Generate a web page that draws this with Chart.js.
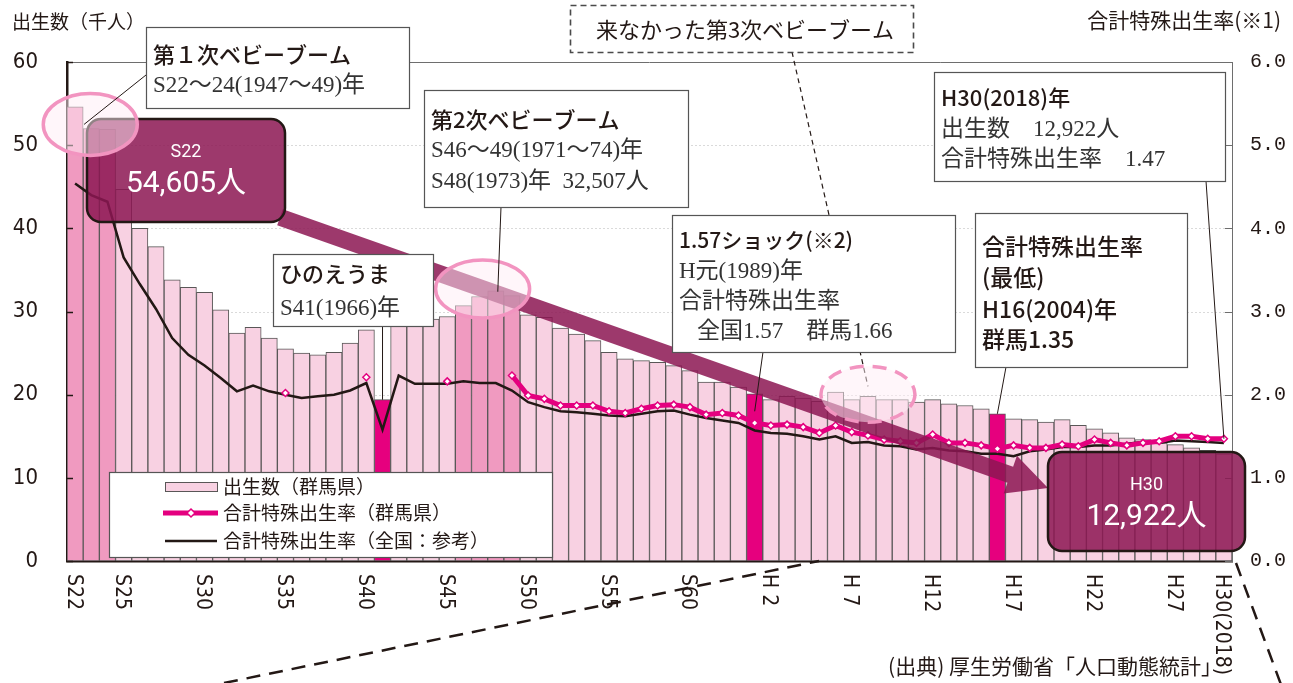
<!DOCTYPE html>
<html><head><meta charset="utf-8">
<script src="https://cdn.jsdelivr.net/npm/chart.js@4/dist/chart.umd.min.js"></script>
<style>html,body{margin:0;padding:0;background:#fff;}#wrap{position:relative;width:1293px;height:683px;}</style>
</head><body><div id="wrap"><canvas id="c" width="1293" height="683"></canvas></div>
<script>
// ---------- data ----------
const categories = ['S22','S23','S24','S25','S26','S27','S28','S29','S30','S31','S32','S33','S34','S35','S36','S37','S38','S39','S40','S41','S42','S43','S44','S45','S46','S47','S48','S49','S50','S51','S52','S53','S54','S55','S56','S57','S58','S59','S60','S61','S62','S63','H1','H2','H3','H4','H5','H6','H7','H8','H9','H10','H11','H12','H13','H14','H15','H16','H17','H18','H19','H20','H21','H22','H23','H24','H25','H26','H27','H28','H29','H30'];
// births in Gunma (thousands)
const births = [54.6,52.0,51.9,44.7,40.0,37.8,33.8,32.9,32.3,30.2,
 27.4,28.1,26.8,25.5,25.0,24.8,25.1,26.2,27.8,19.4,
 28.7,28.9,29.1,29.4,30.7,31.8,32.5,31.9,29.6,29.3,
 28.0,27.3,26.5,25.1,24.3,24.1,23.9,23.5,22.9,21.5,
 21.5,20.9,20.1,19.4,19.8,19.6,19.2,20.3,19.4,19.8,
 19.4,19.4,19.1,19.4,18.9,18.7,18.3,17.7,17.1,17.0,
 16.7,17.0,16.3,15.9,15.4,14.8,14.6,14.2,14.0,13.6,
 13.3,12.9];
// total fertility rate, Gunma
const gunmaTFR = [null,null,null,null,null,null,null,null,null,null,
 null,null,null,2.02,null,null,null,null,2.21,null,
 null,null,null,2.16,null,null,null,2.23,1.99,1.95,
 1.87,1.87,1.87,1.80,1.78,1.83,1.87,1.88,1.85,1.76,
 1.78,1.75,1.66,1.63,1.64,1.61,1.54,1.63,1.55,1.51,
 1.46,1.44,1.42,1.52,1.42,1.42,1.39,1.35,1.39,1.36,
 1.36,1.40,1.38,1.46,1.42,1.39,1.42,1.44,1.50,1.50,
 1.47,1.47];
// total fertility rate, national
const nationalTFR = [4.54,4.40,4.32,3.65,3.33,3.03,2.68,2.48,2.35,2.20,
 2.04,2.11,2.04,2.00,1.96,1.98,2.00,2.05,2.14,1.58,
 2.23,2.13,2.13,2.13,2.16,2.14,2.14,2.05,1.91,1.85,
 1.80,1.79,1.77,1.75,1.74,1.77,1.80,1.81,1.76,1.72,
 1.69,1.66,1.57,1.54,1.53,1.50,1.46,1.50,1.42,1.43,
 1.39,1.38,1.34,1.36,1.33,1.32,1.29,1.29,1.26,1.32,
 1.34,1.37,1.37,1.39,1.39,1.41,1.43,1.42,1.45,1.44,
 1.43,1.42];
const tickCategories = ['S22','S25','S30','S35','S40','S45','S50','S55','S60','H2','H7','H12','H17','H22','H27','H30'];
const tickTexts      = ['S22','S25','S30','S35','S40','S45','S50','S55','S60','H 2','H 7','H12','H17','H22','H27','H30(2018)'];
const boomYears = ['S22','S23','S24','S46','S47','S48','S49'];
const markedYears = ['S41','H1','H16'];
const seriesNames = ['出生数（群馬県）','合計特殊出生率（群馬県）','合計特殊出生率（全国：参考）'];

// ---------- styles ----------
const JP = '"Noto Sans CJK JP", "Noto Sans", sans-serif';
const SERIF = '"Liberation Serif", "Noto Sans CJK JP", serif';
const NARROW = '"Liberation Sans Narrow", "DejaVu Sans Condensed", Roboto, sans-serif';
const ROBO = 'Roboto, "Noto Sans CJK JP", sans-serif';
const INK = '#231815';
const C_LIGHT = '#f8d1e2', C_BOOM = '#f09ac0', C_MARK = '#e6007e', C_LINE = '#e4007f';
const MAROON = 'rgba(140,22,82,0.85)';

const barColors = categories.map(c => markedYears.includes(c) ? C_MARK : (boomYears.includes(c) ? C_BOOM : C_LIGHT));

function T(ctx, s, x, y, font, color, align){
  ctx.font = font; ctx.fillStyle = color || INK; ctx.textAlign = align || 'left'; ctx.textBaseline = 'middle';
  ctx.fillText(s, x, y);
}
function wbox(ctx, x, y, w, h, dashed){
  ctx.save();
  ctx.fillStyle = '#fff'; ctx.fillRect(x, y, w, h);
  ctx.strokeStyle = dashed ? '#4a4a4a' : '#555'; ctx.lineWidth = dashed ? 1.6 : 1.2;
  if (dashed) ctx.setLineDash([6,4]);
  ctx.strokeRect(x+0.5, y+0.5, w, h);
  ctx.restore();
}
function line(ctx, x1, y1, x2, y2, color, w, dash){
  ctx.save(); ctx.strokeStyle = color; ctx.lineWidth = w; if (dash) ctx.setLineDash(dash);
  ctx.beginPath(); ctx.moveTo(x1,y1); ctx.lineTo(x2,y2); ctx.stroke(); ctx.restore();
}
function ellipse(ctx, cx, cy, rx, ry, dashed){
  ctx.save();
  ctx.beginPath(); ctx.ellipse(cx, cy, rx, ry, 0, 0, Math.PI*2);
  ctx.fillStyle = 'rgba(255,238,245,0.5)'; ctx.fill();
  ctx.strokeStyle = '#f294c0'; ctx.lineWidth = 3.5; if (dashed) ctx.setLineDash([14,9]);
  ctx.stroke(); ctx.restore();
}
function mbox(ctx, x, y, w, h, t1, t2){
  ctx.save();
  ctx.beginPath(); ctx.roundRect(x, y, w, h, 14);
  ctx.fillStyle = MAROON; ctx.fill();
  ctx.strokeStyle = INK; ctx.lineWidth = 2.5; ctx.stroke();
  T(ctx, t1, x + w/2, y + 33, '18px ' + ROBO, '#fff', 'center');
  T(ctx, t2, x + w/2, y + 65, '30px ' + ROBO, '#fff', 'center');
  ctx.restore();
}

const annot = {
  id: 'annot',
  beforeDatasetsDraw(chart){
    const {ctx, chartArea:a, scales:{yL}} = chart;
    ctx.save();
    ctx.strokeStyle = '#dadada'; ctx.lineWidth = 1; ctx.setLineDash([2,2]);
    yL.ticks.forEach(t => {
      if (t.value > 0 && t.value < 60){
        const y = Math.round(yL.getPixelForValue(t.value)) + 0.5;
        ctx.beginPath(); ctx.moveTo(a.left, y); ctx.lineTo(a.right, y); ctx.stroke();
      }
    });
    ctx.restore();
  },
  afterDraw(chart){
    const {ctx, chartArea:a, scales:{x, yL, yR}} = chart;
    const xs = i => x.getPixelForValue(i);
    ctx.save();
    // frame top line
    line(ctx, a.left, a.top+0.5, a.right, a.top+0.5, '#6e6e6e', 1);
    // inward ticks
    yL.ticks.forEach(t => { const y = Math.round(yL.getPixelForValue(t.value))+0.5; line(ctx, a.left, y, a.left+6, y, INK, 1.5); });
    yR.ticks.forEach(t => { const y = Math.round(yR.getPixelForValue(t.value))+0.5; line(ctx, a.right-7, y, a.right, y, '#6e6e6e', 1); });
    // rotated x tick labels
    tickCategories.forEach((c, j) => {
      const i = categories.indexOf(c);
      ctx.save();
      ctx.translate(xs(i) - 2, a.bottom + 13);
      ctx.rotate(Math.PI/2);
      T(ctx, tickTexts[j], 0, 0, '21px ' + NARROW, INK, 'left');
      ctx.restore();
    });
    // titles
    T(ctx, '出生数（千人）', 12, 22, '19px ' + JP, INK);
    T(ctx, '合計特殊出生率(※1)', 1281, 20, '21px ' + JP, INK, 'right');
    T(ctx, '(出典) 厚生労働省「人口動態統計」', 1222, 666, '21px ' + JP, INK, 'right');
    // projection dashed lines
    line(ctx, 224, 683, 819, a.bottom, INK, 2.5, [14,9]);
    line(ctx, 1236, a.bottom+2, 1283, 690, INK, 2.5, [14,9]);

    // big arrow
    const sx = 280, sy = 217.3, tx = 1048, ty = 488;
    const dx = tx - sx, dy = ty - sy, L = Math.hypot(dx, dy), ux = dx/L, uy = dy/L, px = -uy, py = ux;
    const hl = 40, hw = 20, sw = 8.5;
    const bx = tx - ux*hl, by = ty - uy*hl;
    ctx.beginPath();
    ctx.moveTo(sx + px*sw, sy + py*sw);
    ctx.lineTo(bx + px*sw, by + py*sw);
    ctx.lineTo(bx + px*hw, by + py*hw);
    ctx.lineTo(tx, ty);
    ctx.lineTo(bx - px*hw, by - py*hw);
    ctx.lineTo(bx - px*sw, by - py*sw);
    ctx.lineTo(sx - px*sw, sy - py*sw);
    ctx.closePath();
    ctx.fillStyle = MAROON; ctx.fill();

    // maroon value boxes
    mbox(ctx, 87, 119, 198, 103, 'S22', '54,605人');
    mbox(ctx, 1048, 452, 197, 99, 'H30', '12,922人');

    // ellipses
    ellipse(ctx, xs(1) - 1, yL.getPixelForValue(52.5), 47, 31, false);
    ellipse(ctx, xs(25) + 3, yL.getPixelForValue(32.7), 47, 29, false);
    // dashed leader from "3rd boom" box
    line(ctx, 792, 52, xs(49), yL.getPixelForValue(21), INK, 1.2, [5,4]);
    ellipse(ctx, xs(49), yL.getPixelForValue(20.05), 47, 28, true);

    // leader lines
    line(ctx, 146, 75, xs(0) + 9, yL.getPixelForValue(52.5), INK, 1);
    line(ctx, 501, 207, xs(26) + 2, yL.getPixelForValue(births[26]) + 1, INK, 1);
    line(ctx, xs(19), 326, xs(19), yL.getPixelForValue(births[19]), INK, 1);
    line(ctx, 763, 352, xs(42), yR.getPixelForValue(1.8), INK, 1);
    line(ctx, 1206, 181, xs(71), yR.getPixelForValue(gunmaTFR[71]), INK, 1);
    line(ctx, 1006, 367, xs(57), yL.getPixelForValue(births[57]), INK, 1);

    // white callout boxes
    wbox(ctx, 146, 27, 263, 81);
    T(ctx, '第１次ベビーブーム', 153, 55, '500 22px ' + JP, INK);
    T(ctx, 'S22～24(1947～49)年', 153, 86, '23px ' + SERIF, '#333');

    wbox(ctx, 424, 90, 264, 117);
    T(ctx, '第2次ベビーブーム', 431, 120, '500 22px ' + JP, INK);
    T(ctx, 'S46～49(1971～74)年', 431, 151, '23px ' + SERIF, '#333');
    T(ctx, 'S48(1973)年  32,507人', 431, 182, '23px ' + SERIF, '#333');

    wbox(ctx, 273, 254, 160, 72);
    T(ctx, 'ひのえうま', 280, 274, '500 22px ' + JP, INK);
    T(ctx, 'S41(1966)年', 280, 309, '23px ' + SERIF, '#333');

    wbox(ctx, 570, 5, 343, 47, true);
    T(ctx, '来なかった第3次ベビーブーム', 745, 30, '22px ' + JP, INK, 'center');

    wbox(ctx, 672, 215, 283, 137);
    T(ctx, '1.57ショック(※2)', 679, 240, '500 21px ' + JP, INK);
    T(ctx, 'H元(1989)年', 679, 272, '23px ' + SERIF, '#333');
    T(ctx, '合計特殊出生率', 679, 302, '23px ' + SERIF, '#333');
    T(ctx, '全国1.57　群馬1.66', 697, 332, '23px ' + SERIF, '#333');

    wbox(ctx, 934, 72, 291, 109);
    T(ctx, 'H30(2018)年', 941, 98, '500 22px ' + JP, INK);
    T(ctx, '出生数　12,922人', 941, 130, '23px ' + SERIF, '#333');
    T(ctx, '合計特殊出生率　1.47', 941, 160, '23px ' + SERIF, '#333');

    wbox(ctx, 975, 213, 212, 154);
    T(ctx, '合計特殊出生率', 982, 246, '500 23px ' + JP, INK);
    T(ctx, '(最低)', 982, 277, '500 23px ' + JP, INK);
    T(ctx, 'H16(2004)年', 982, 309, '500 23px ' + JP, INK);
    T(ctx, '群馬1.35', 982, 339, '500 23px ' + JP, INK);

    // legend
    wbox(ctx, 109, 472, 443, 85);
    ctx.fillStyle = C_LIGHT; ctx.fillRect(165, 482, 52, 9);
    ctx.strokeStyle = '#595757'; ctx.lineWidth = 1; ctx.strokeRect(165.5, 482.5, 52, 9);
    T(ctx, seriesNames[0], 223, 487, '19px ' + JP, INK);
    line(ctx, 163, 513, 218, 513, C_LINE, 5);
    ctx.save(); ctx.beginPath(); ctx.moveTo(191, 509); ctx.lineTo(195, 513); ctx.lineTo(191, 517); ctx.lineTo(187, 513); ctx.closePath();
    ctx.fillStyle = '#fff'; ctx.fill(); ctx.strokeStyle = C_LINE; ctx.lineWidth = 1.5; ctx.stroke(); ctx.restore();
    T(ctx, seriesNames[1], 223, 513, '19px ' + JP, INK);
    line(ctx, 165, 541, 217, 541, INK, 2.5);
    T(ctx, seriesNames[2], 223, 541, '19px ' + JP, INK);
    ctx.restore();
  }
};

new Chart(document.getElementById('c').getContext('2d'), {
  type: 'bar',
  data: {
    labels: categories,
    datasets: [
      { type:'line', label: seriesNames[1], data: gunmaTFR, yAxisID:'yR', borderColor: C_LINE, borderWidth: 5,
        pointStyle:'rectRot', pointRadius: 3.5, pointBackgroundColor:'#fff', pointBorderColor: C_LINE, pointBorderWidth: 1.5,
        spanGaps:false, tension:0, order:0 },
      { type:'line', label: seriesNames[2], data: nationalTFR, yAxisID:'yR', borderColor: INK, borderWidth: 2.5,
        pointRadius: 0, tension:0, order:1 },
      { type:'bar', label: seriesNames[0], data: births, yAxisID:'yL', backgroundColor: barColors,
        borderColor:'#595757', borderWidth:1, borderSkipped:false, barPercentage:1, categoryPercentage:1, order:2 }
    ]
  },
  options: {
    responsive:false, animation:false, devicePixelRatio:1,
    layout:{ padding:{ top:62, left:0, right:0, bottom:0 } },
    plugins:{ legend:{ display:false }, tooltip:{ enabled:false } },
    scales:{
      x:{ offset:true, grid:{ display:false }, border:{ display:true, color: INK, width:2.5 },
          ticks:{ display:false }, afterFit(s){ s.height = 122; } },
      yL:{ position:'left', min:0, max:60, grid:{ display:false, drawTicks:false },
           border:{ display:true, color: INK, width:2.5 },
           ticks:{ stepSize:10, padding:29, color: INK, font:{ family: NARROW, size:22 } },
           afterFit(s){ s.width = 67; } },
      yR:{ position:'right', min:0, max:6, grid:{ display:false, drawTicks:false },
           border:{ display:true, color:'#6e6e6e', width:1 },
           ticks:{ stepSize:1, padding:18, color: INK, font:{ family:'"Liberation Mono", monospace', size:20 },
                   callback: v => Number(v).toFixed(1) },
           afterFit(s){ s.width = 61; } }
    }
  },
  plugins:[annot]
});
</script></body></html>
